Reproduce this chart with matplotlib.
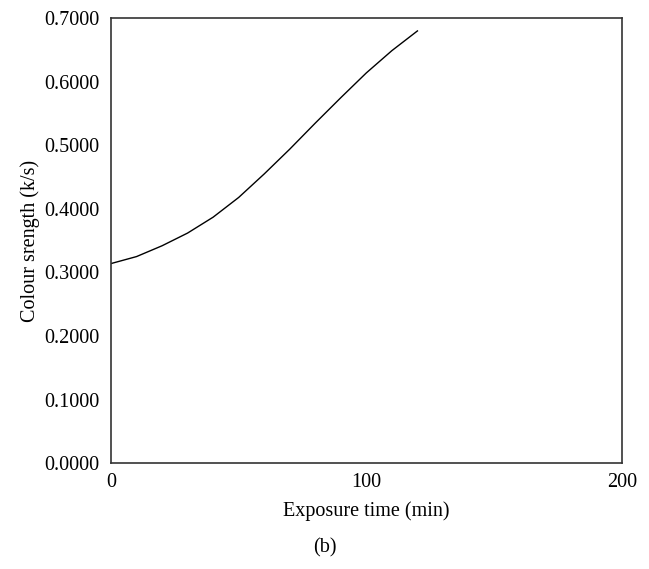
import matplotlib
matplotlib.use('Agg')
import matplotlib.pyplot as plt

# exposure time (min) vs colour strength
time_min = [0, 10, 20, 30, 40, 50, 60, 70, 80, 90, 100, 110, 120]
strength = [0.314, 0.325, 0.342, 0.362, 0.387, 0.418, 0.455, 0.494, 0.535,
            0.575, 0.614, 0.649, 0.680]

y_ticks = [0.0, 0.1, 0.2, 0.3, 0.4, 0.5, 0.6, 0.7]
x_ticks = [0, 100, 200]

plt.rcParams['font.family'] = ['Liberation Serif', 'DejaVu Serif']

fig = plt.figure(figsize=(6.49, 5.69), dpi=100)
ax = fig.add_axes([0.171, 0.186, 0.787, 0.782])
ax.plot(time_min, strength, color='black', linewidth=1.0)

ax.set_xlim(0, 200)
ax.set_ylim(0, 0.7)
ax.set_xticks(x_ticks)
ax.set_yticks(y_ticks)
ax.set_yticklabels(['%.4f' % v for v in y_ticks])
ax.tick_params(length=0, labelsize=14.5)
ax.tick_params(axis='y', pad=8)
ax.tick_params(axis='x', pad=7)
for s in ax.spines.values():
    s.set_color('#333333')
    s.set_linewidth(1.2)

ax.set_xlabel('Exposure time (min)', fontsize=14.5, labelpad=7)
ax.set_ylabel('Colour srength (k/s)', fontsize=14.5, labelpad=3)
fig.text(0.5, 0.037, '(b)', ha='center', va='center', fontsize=14.5)

fig.savefig('out.png', dpi=100)
